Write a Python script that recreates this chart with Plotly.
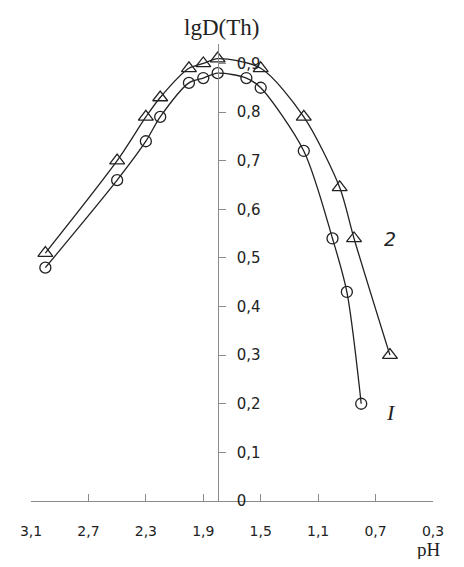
import plotly.graph_objects as go

# Series 1 (circles)
ph_1 = [3.0, 2.5, 2.3, 2.2, 2.0, 1.9, 1.8, 1.6, 1.5, 1.2, 1.0, 0.9, 0.8]
lgd_1 = [0.48, 0.66, 0.74, 0.79, 0.86, 0.87, 0.88, 0.87, 0.85, 0.72, 0.54, 0.43, 0.20]

# Series 2 (triangles)
ph_2 = [3.0, 2.5, 2.3, 2.2, 2.0, 1.9, 1.8, 1.5, 1.2, 0.95, 0.85, 0.6]
lgd_2 = [0.51, 0.70, 0.79, 0.83, 0.89, 0.90, 0.91, 0.89, 0.79, 0.645, 0.54, 0.30]

x_ticks = [3.1, 2.7, 2.3, 1.9, 1.5, 1.1, 0.7, 0.3]
x_tick_labels = ["3,1", "2,7", "2,3", "1,9", "1,5", "1,1", "0,7", "0,3"]
y_ticks = [0, 0.1, 0.2, 0.3, 0.4, 0.5, 0.6, 0.7, 0.8, 0.9]
y_tick_labels = ["0", "0,1", "0,2", "0,3", "0,4", "0,5", "0,6", "0,7", "0,8", "0,9"]

axis_color = "#8a8a8a"
line_color = "#222222"

fig = go.Figure()
fig.add_trace(go.Scatter(
    x=ph_1, y=lgd_1, mode="lines+markers",
    line=dict(color=line_color, width=1.3, shape="spline", smoothing=0.8),
    marker=dict(symbol="circle-open", size=11, color=line_color, line=dict(width=1.3)),
    showlegend=False,
))
fig.add_trace(go.Scatter(
    x=ph_2, y=lgd_2, mode="lines+markers",
    line=dict(color=line_color, width=1.3, shape="spline", smoothing=0.8),
    marker=dict(symbol="triangle-up-open", size=13, color=line_color, line=dict(width=1.3)),
    showlegend=False,
))

tick_font = dict(family="DejaVu Sans", size=15, color="#222222")

fig.update_layout(
    width=448, height=551,
    margin=dict(l=16, r=14, t=36, b=58),
    paper_bgcolor="white", plot_bgcolor="white",
    xaxis=dict(
        range=[3.1, 0.3], autorange=False,
        tickvals=x_ticks, ticktext=x_tick_labels,
        ticks="inside", ticklen=7, tickcolor=axis_color, tickwidth=1,
        showline=True, linecolor=axis_color, linewidth=1.3,
        showgrid=False, zeroline=False,
        tickfont=dict(family="DejaVu Sans", size=14, color="#222222"),
        ticklabelstandoff=17,
    ),
    yaxis=dict(
        range=[0, 0.94], autorange=False,
        tickvals=y_ticks, ticktext=y_tick_labels,
        anchor="free", position=(3.1 - 1.8) / (3.1 - 0.3), side="right",
        ticks="outside", ticklen=7, tickcolor=axis_color, tickwidth=1,
        showline=True, linecolor=axis_color, linewidth=1.3,
        showgrid=False, zeroline=False,
        tickfont=tick_font, ticklabelstandoff=8,
    ),
    annotations=[
        dict(text="lgD(Th)", xref="x", x=1.77, yref="paper", y=1.0, yshift=2,
             xanchor="center", yanchor="bottom", showarrow=False,
             font=dict(family="Liberation Serif", size=23, color="#222222")),
        dict(text="pH", xref="paper", x=1.0, yref="paper", y=0, xshift=10, yshift=-48,
             xanchor="right", yanchor="middle", showarrow=False,
             font=dict(family="Liberation Serif", size=19, color="#222222")),
        dict(text="<i>2</i>", xref="x", x=0.6, yref="y", y=0.538,
             xanchor="center", yanchor="middle", showarrow=False,
             font=dict(family="DejaVu Sans", size=19, color="#222222")),
        dict(text="<i>I</i>", xref="x", x=0.59, yref="y", y=0.183,
             xanchor="center", yanchor="middle", showarrow=False,
             font=dict(family="Liberation Serif", size=22, color="#222222")),
    ],
)

fig.write_html("out.html")
